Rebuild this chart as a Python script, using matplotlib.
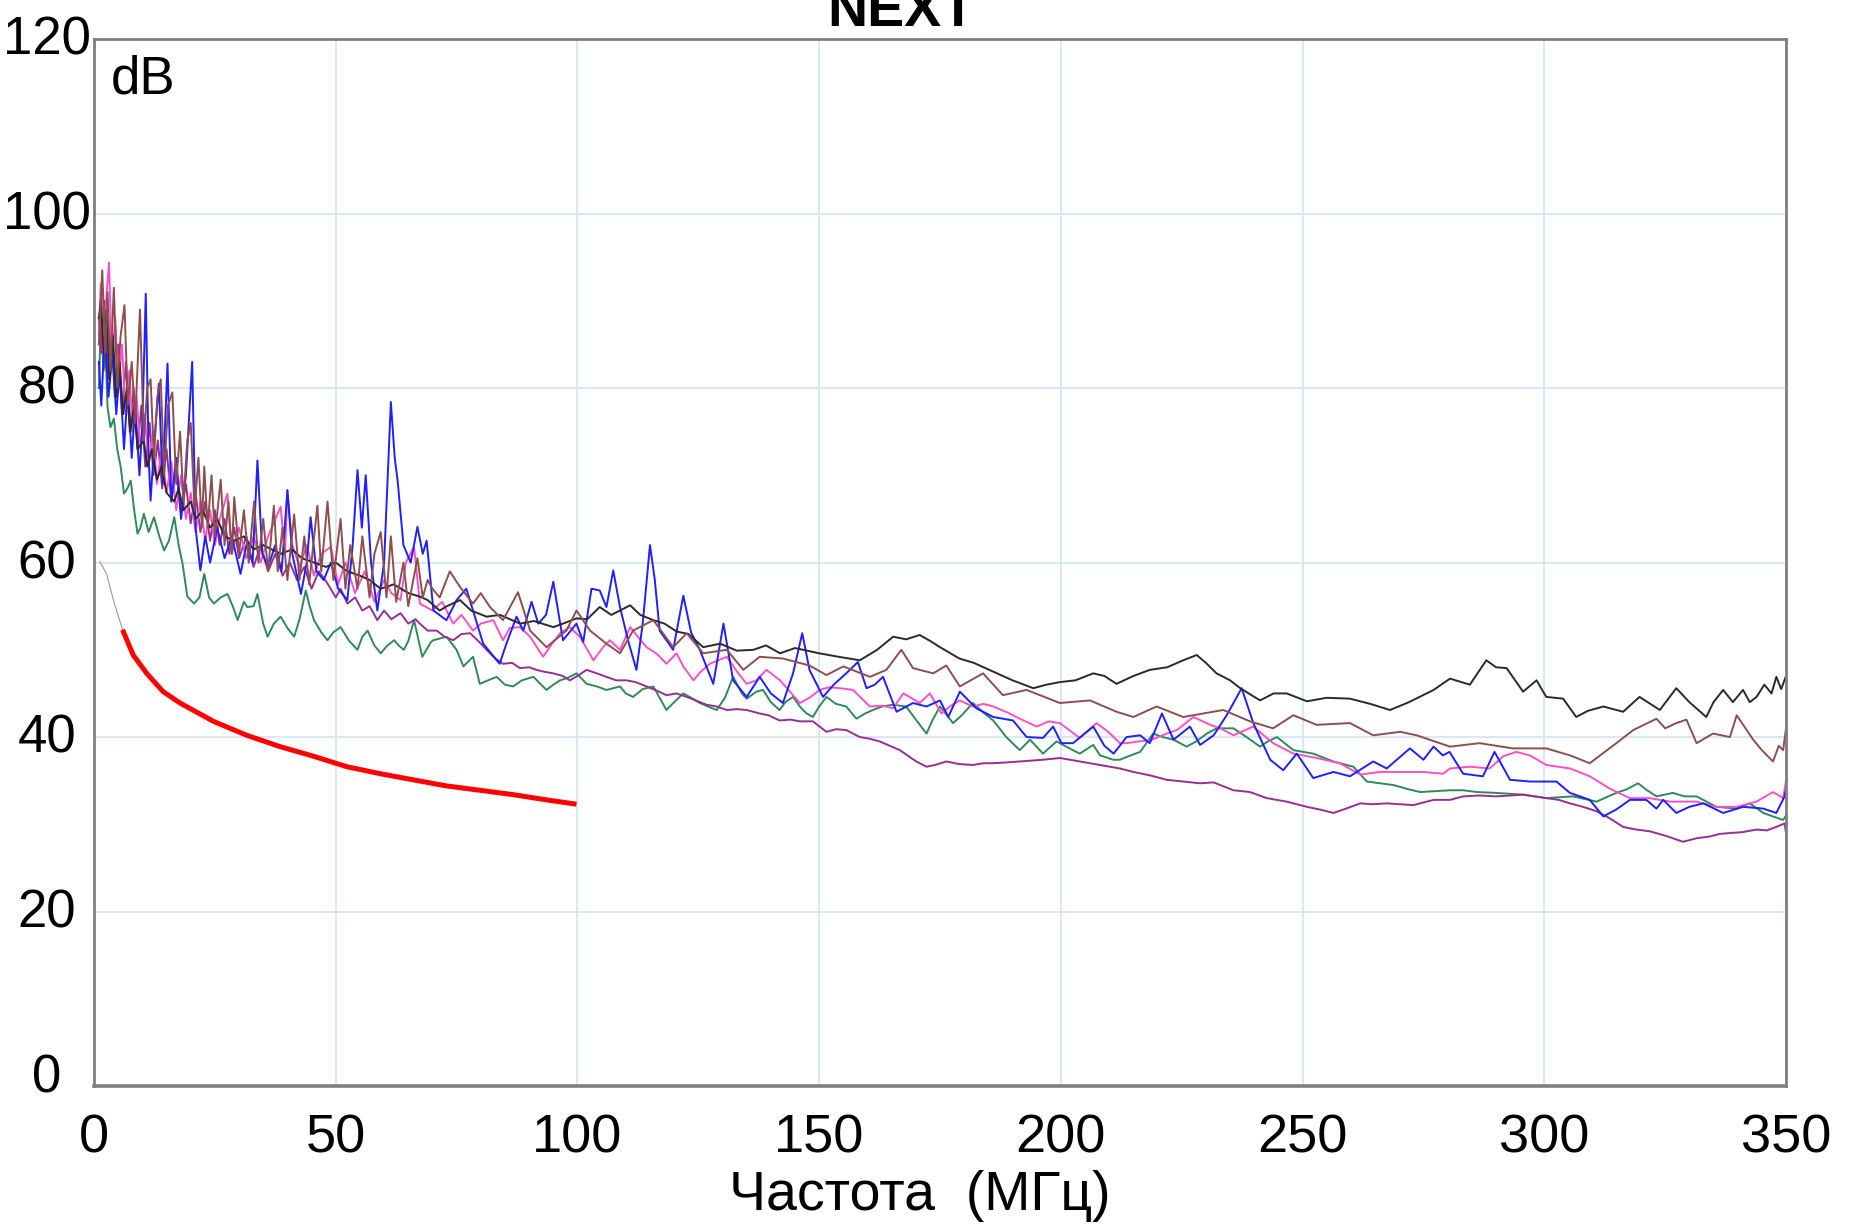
import matplotlib
matplotlib.use('Agg')
import matplotlib.pyplot as plt
import numpy as np
from matplotlib.transforms import ScaledTranslation

# NEXT - measured pairs (frequency MHz, dB)
black = [(1.0, 88), (1.4, 90), (2.0, 84), (2.6, 89), (3.2, 81), (3.9, 86), (4.6, 79), (5.3, 83),
         (6.0, 77), (6.8, 80), (7.5, 75), (8.3, 78), (9.0, 73), (10.3, 74), (11, 71), (12, 73),
         (13, 69.5), (14, 71), (15, 68), (16.6, 67), (17.5, 68.5), (18.5, 66), (20, 67), (21, 65),
         (22.5, 66), (24, 64), (25.5, 65), (27, 63), (29, 62.5), (31, 63), (33, 61.5), (35, 62),
         (38.6, 61), (41, 61.5), (43, 60.5), (45.5, 60), (48, 59.5), (50, 60), (52.4, 59), (55, 58.5),
         (57, 58), (59.3, 57), (62, 57.5), (65, 56.5), (67.4, 56.1), (69, 55.7), (71.5, 54.5), (73, 55),
         (75.7, 55.7), (78, 54.5), (81.2, 53.8), (84, 54), (88.1, 53), (91, 53.3), (95, 52.6), (97, 53),
         (99.8, 53.6), (102, 53.5), (104.6, 54.9), (107, 54), (110.9, 55.1), (113, 54), (115.7, 53.4),
         (118, 53), (120.5, 52.1), (123, 51.8), (126, 50.3), (129.5, 50.7), (133, 49.9), (136.4, 50),
         (139, 50.5), (141.9, 49.6), (145, 50.2), (150, 49.6), (154, 49.2), (158.4, 48.8), (162, 50),
         (165.3, 51.5), (168, 51.2), (170.8, 51.7), (173, 51), (175, 50.3), (179, 49), (182, 48.5),
         (186, 47.5), (190, 46.5), (194.3, 45.6), (197, 46), (199.8, 46.3), (203, 46.5), (206.7, 47.3),
         (209, 47), (211.5, 46.1), (215, 47), (218.4, 47.7), (222, 48), (225.3, 48.8), (228.1, 49.4),
         (230, 48.5), (232.2, 47.3), (235, 46.5), (237.1, 45.6), (241.2, 44.2), (244, 45), (246.7, 45),
         (250.9, 44.1), (255, 44.5), (259.8, 44.4), (264, 43.8), (268.1, 43.1), (272, 44), (277.1, 45.4),
         (280.5, 46.7), (284.6, 46), (288, 48.8), (290, 48), (292.2, 47.9), (295.6, 45.2), (298.4, 46.5),
         (300.4, 44.6), (303.9, 44.4), (306.6, 42.3), (309, 43), (312.2, 43.5), (316.3, 42.9),
         (319.7, 44.6), (323.9, 43.1), (327.3, 45.6), (330, 44), (333.5, 42.3), (335, 44), (337, 45.4),
         (339, 44), (341.1, 45.4), (342.5, 44), (343.9, 44.6), (345.5, 46), (347, 45), (348, 46.9),
         (349, 45.5), (350, 47)]

brown = [(1.0, 85), (1.7, 93.5), (2.3, 84), (2.8, 91), (3.4, 82), (4.1, 91.5), (4.8, 80), (5.5, 86),
         (6.3, 89.5), (7.0, 78), (7.8, 83), (8.5, 76), (9.5, 89), (10.3, 74), (11.0, 80), (11.7, 81),
         (12.4, 72), (13.1, 79), (13.8, 81), (14.5, 70), (15.3, 78), (16.2, 79.5), (17.0, 69),
         (17.8, 75), (18.5, 67), (19.3, 74), (20.0, 76), (20.8, 66), (21.6, 72), (22.3, 64), (22.8, 71),
         (23.5, 64), (24.3, 70), (25.0, 63), (26.2, 69.5), (27.0, 62), (27.8, 67), (28.5, 61), (29.0, 67.5),
         (30.0, 61), (31, 66), (32, 60), (33.1, 67), (34, 60), (35, 65), (36, 59), (37.2, 66.5), (38, 59),
         (39, 64), (40, 58), (41.4, 65.5), (42.5, 58), (43.5, 63), (44.5, 57.5), (46.2, 66.5), (47, 59),
         (48.3, 67), (49.5, 58), (51, 65), (52, 57), (53, 62), (54.5, 57), (55.5, 63), (57, 56), (58, 61),
         (59.3, 63.5), (60.5, 56), (61.4, 63), (62.5, 55.5), (64, 60), (65, 55), (66.9, 60.5), (68, 56),
         (69, 58), (70, 57), (71.5, 56), (73.6, 59), (75.7, 57.2), (78.4, 55.3), (80, 56.5), (81.9, 54.9),
         (84.6, 53.4), (87.7, 56.6), (90.2, 52.2), (93.6, 50.3), (97.7, 52.2), (99.8, 54.5),
         (102.6, 52.2), (106, 50.7), (108.8, 49.6), (111.5, 52.2), (115.7, 53.4), (119.8, 50.3),
         (122.6, 51.9), (126, 49.6), (130.9, 50), (134.3, 47.7), (137.7, 49.2), (142.5, 49), (148, 48.2),
         (151.5, 47.1), (155, 48.1), (160.5, 46.9), (163.9, 47.7), (167, 50), (169.4, 47.9),
         (173.6, 47.3), (176.3, 48.2), (179.1, 45.8), (183.9, 47.3), (188, 44.8), (192.9, 45.4),
         (199.8, 43.9), (206, 44.2), (211.5, 42.9), (215, 42.3), (219.8, 43.5), (225.3, 42.3),
         (233.6, 43.1), (239.1, 41.8), (243.9, 41), (248.1, 42.5), (252.9, 41.4), (259.8, 41.6),
         (264.6, 40.2), (270.2, 40.6), (273.6, 40.2), (280.5, 38.9), (286.6, 39.3), (293.5, 38.7),
         (300.4, 38.7), (305.3, 37.9), (309.4, 37), (314.9, 39.3), (318.4, 40.8), (323.2, 42.1),
         (325, 41), (327.3, 41.6), (329.4, 42), (331.5, 39.3), (334.9, 40.4), (338.4, 40), (339.8, 42.5),
         (343.2, 39.7), (345, 38.5), (347.3, 37.2), (348.5, 39), (349.4, 38.5), (350, 41)]

blue = [(1.0, 83), (1.5, 78), (2.2, 86), (3.0, 79), (3.8, 84), (4.6, 77), (5.3, 82), (6.2, 73),
        (7.0, 80), (7.8, 72), (8.5, 78), (9.4, 70), (10.0, 76), (10.7, 90.8), (11.3, 72), (11.7, 67.1),
        (12.5, 74), (13.4, 80.5), (14.2, 69), (15.2, 82.8), (16, 67), (17, 72), (18, 65), (19, 70),
        (20.3, 83), (21, 64), (22, 59.1), (23, 63), (24, 60), (25.5, 64), (27, 60.5), (28.5, 63),
        (30.3, 58.7), (31.5, 62), (32.8, 60), (33.8, 71.7), (34.8, 61), (36, 59.5), (37.5, 62), (38.8, 59),
        (40, 68.3), (41, 61), (42.8, 56.4), (44, 60), (44.8, 65.2), (46, 59), (47.5, 58), (49, 60),
        (50.5, 57), (52.4, 55.7), (53.5, 62), (54.5, 70.6), (55.4, 64), (56.2, 70), (57.3, 60),
        (58.6, 54.5), (60, 60), (61.4, 78.4), (62.2, 72), (62.8, 69.4), (64, 62), (65.5, 60), (66.9, 64.1),
        (68, 61), (68.8, 62.5), (70.2, 54.5), (72.9, 53.4), (75, 55.7), (77, 57), (80.5, 50.7),
        (83.9, 48.4), (85.3, 50.7), (87.4, 53.8), (88.8, 52.2), (90.5, 55.5), (91.9, 53), (93.5, 54),
        (95, 57.8), (97, 51.1), (99.8, 53), (101.2, 50.9), (102.9, 57), (104.6, 56.8), (106, 54.9),
        (107.4, 59.1), (108.8, 54.9), (110.5, 51), (112.2, 47.7), (113.5, 53), (115, 62), (116, 58),
        (117, 52.2), (119.8, 50), (121.9, 56.2), (123.5, 52), (125.3, 50), (128.1, 46.1), (130.2, 53),
        (132.2, 46.5), (135, 44.6), (137.7, 46.9), (140, 45), (142.5, 43.9), (144.6, 47.3), (146.5, 51.9),
        (148, 47.7), (150.8, 44.6), (153, 46), (155.6, 47.3), (158, 48.6), (159.8, 45.6), (161.5, 46),
        (163.2, 46.9), (166, 42.9), (169.4, 43.9), (172.2, 43.5), (175, 44.2), (176.7, 42.3),
        (179.1, 45.2), (182.5, 43.3), (186, 42.3), (190.1, 41.9), (192.9, 40), (196.3, 39.9),
        (198.4, 41.2), (200.1, 39.3), (202.5, 39.3), (206.7, 41.2), (209, 39), (210.9, 38.1), (213.6, 40),
        (216.4, 40.2), (218.4, 39.3), (220.9, 42.7), (223.3, 39.7), (226.7, 41.2), (228.8, 39.1),
        (231.6, 40.2), (234.3, 42.5), (237.4, 45.6), (239.8, 41.6), (243.3, 37.4), (246, 36.2),
        (248.8, 38.1), (252.2, 35.3), (256.4, 36), (259.8, 35.5), (264.6, 37.2), (267.4, 36.4),
        (272.2, 38.7), (275, 37.4), (277.1, 38.9), (279, 37.9), (280.4, 38.3), (283.2, 35.8),
        (287.3, 35.5), (289.7, 38.3), (292.9, 35.1), (297, 34.9), (302.5, 34.9), (305.3, 33.6),
        (309.4, 32.8), (312.2, 30.9), (314.9, 31.7), (317.7, 32.8), (321.1, 32.8), (323.2, 31.8),
        (324.6, 32.8), (327.3, 31.3), (330, 32), (332.9, 32.4), (337, 31.3), (341.1, 32), (345.3, 31.8),
        (348, 31.3), (349.7, 33.2), (350, 34)]

pink = [(1.0, 86), (1.4, 92), (2.0, 84), (2.5, 90), (3.1, 94.4), (3.7, 83), (4.4, 88), (5.0, 80),
        (5.8, 85), (6.5, 77), (7.3, 82), (8.0, 75), (8.8, 79), (9.6, 73), (10.5, 77), (11.3, 71),
        (12.2, 75), (13.0, 69), (14.0, 73), (15, 68), (16, 71.5), (17, 66), (18, 70), (19, 65), (20, 68),
        (21, 63.5), (22, 67), (23, 62.5), (24, 66), (25, 62), (26, 65), (27.6, 67.9), (28.5, 61), (30, 64),
        (31.5, 60.5), (33, 63), (34.5, 60), (36, 63), (38.6, 66.4), (39.5, 61), (40, 68.3), (41, 62),
        (42.5, 59.5), (44, 62), (45.5, 58.5), (47, 61), (49, 61.8), (50.5, 57.5), (52, 60), (54, 56.5),
        (56, 59), (58, 55.5), (60, 58), (61.5, 56.5), (63.4, 55.7), (64.5, 60), (66.2, 61.8), (67.4, 55.3),
        (70, 54.5), (72, 55.5), (74.3, 53), (76, 54), (78.4, 52.2), (80, 53), (82.6, 53.4), (84.6, 51.1),
        (86, 52.5), (88.1, 52.6), (90.2, 51.5), (92.9, 49.2), (94.5, 50.5), (96.4, 51.9), (98.4, 52.6),
        (100.5, 51.5), (103.3, 48.8), (105.3, 50.3), (106.7, 51.1), (108.8, 50), (110.9, 52.6),
        (112.5, 51.5), (114.3, 50.3), (116.5, 49.5), (118.4, 48.4), (120.5, 49.6), (122, 48), (124, 46.5),
        (125.5, 47.5), (127.4, 48.4), (130.9, 49.2), (133, 47.5), (135, 46.1), (137, 46.5), (139.1, 47.7),
        (141.9, 46.5), (143.5, 45.5), (146, 43.9), (148, 44.5), (150.1, 45.4), (152, 45.7), (154.3, 45.6),
        (157, 45.4), (160.5, 43.5), (163, 43.6), (165.3, 43.3), (167.4, 45), (169, 44.5), (170.8, 43.9),
        (172.9, 45), (175.3, 42.7), (177, 43.5), (179.1, 44.2), (181.8, 43.5), (184, 43.8), (186, 43.5),
        (189, 42.8), (191.5, 42.1), (195, 41.2), (197.5, 41.8), (199.8, 41.6), (203.9, 39.9),
        (207.4, 41.6), (210, 40.5), (212.2, 39.3), (213.6, 39.3), (216, 39.5), (218.4, 39.6),
        (221.9, 40.4), (224, 40.8), (227.4, 42.3), (230.9, 41.4), (233, 41), (235.7, 40.2), (239.8, 41.2),
        (243.9, 39.3), (248.1, 38.1), (252.9, 37.6), (257.7, 37), (261.9, 35.7), (266, 36), (270.2, 36),
        (275, 36), (279.1, 35.8), (280.5, 36.4), (284.6, 36.6), (288.7, 36.4), (291.5, 37.8),
        (294.2, 38.3), (297, 37.9), (300.4, 36.8), (305.3, 36.4), (309.4, 35.5), (313.5, 34.1),
        (317.7, 33), (321.8, 33), (326, 32.6), (331.5, 32.6), (335.6, 32), (339.8, 32), (343.9, 32.6),
        (347.3, 33.7), (349.4, 33), (350, 35)]

green = [(1.0, 80), (1.4, 87.4), (2.0, 82), (2.4, 84), (2.8, 77.8), (3.4, 75.5), (4.1, 76.5), (4.8, 73),
         (5.5, 71), (6.2, 67.9), (6.9, 68.5), (7.6, 69.4), (8.3, 66), (9.0, 63.3), (9.6, 64), (10.3, 65.6),
         (11.3, 63.5), (12.4, 65.2), (13.5, 63), (14.5, 61.4), (15.5, 62.5), (16.6, 65.2), (17.5, 62),
         (18.3, 59.9), (19.3, 56.1), (20.7, 55.3), (21.8, 56), (22.8, 58.7), (23.8, 56), (24.8, 55.3),
         (26.2, 56), (27.6, 56.4), (28.7, 55), (29.7, 53.4), (31, 55.5), (31.7, 54.9), (33, 55),
         (33.8, 56.4), (35, 53), (35.9, 51.5), (37.2, 53), (38.6, 53.8), (40, 52.5), (41.4, 51.5),
         (42.5, 53.5), (43.8, 56.8), (44.6, 55), (45.5, 53.4), (47, 52), (48.3, 51.1), (49.5, 52),
         (51, 52.6), (52.8, 51), (54.5, 50), (55.5, 51.5), (56.6, 52.2), (58, 50.5), (59.3, 49.6),
         (60.7, 50.5), (62.1, 51.1), (63, 50.5), (64.1, 50), (65, 51), (66.2, 53.4), (67.9, 49.2),
         (69.7, 50.9), (70.2, 51.1), (72.9, 51.5), (75, 50), (76.4, 48.1), (78.4, 49.2), (79.8, 46.1),
         (81.5, 46.5), (83.3, 46.9), (85, 46), (86.7, 45.8), (88.5, 46.5), (90.9, 46.9), (92.5, 46),
         (93.6, 45.4), (95, 46), (96.4, 46.5), (98, 46.8), (99.8, 47.3), (101.9, 46.1), (104, 45.8),
         (106, 45.4), (108.8, 45.8), (110, 45), (111.5, 44.6), (113.5, 45.5), (115.7, 45.8), (117, 44.5),
         (118.4, 43.1), (120, 44), (121.9, 45), (123.5, 44.5), (125.3, 43.9), (127, 43.5), (128.8, 43.1),
         (130.5, 44.5), (132.2, 46.9), (134, 45), (135, 44.4), (137, 45.2), (138.4, 45.4), (140, 44),
         (141.8, 43.1), (143, 44), (144.6, 44.6), (146, 43.5), (147.4, 42.7), (148.7, 42.3), (150, 43.5),
         (151.5, 44.6), (153.5, 43.8), (155.6, 43.5), (157.7, 42.1), (159.5, 42.7), (161.1, 43.1),
         (163, 43.5), (165.3, 43.7), (168, 43.5), (170, 42), (172.2, 40.4), (173.5, 42), (175, 43.5),
         (177.7, 41.6), (179.5, 42.5), (181.8, 43.9), (184, 42.8), (186, 41.9), (188.7, 40), (191.5, 38.5),
         (193.6, 39.7), (196.3, 38.1), (199.1, 39.5), (201.8, 38.7), (203.9, 38.1), (206.7, 39.1),
         (208.1, 37.9), (210.8, 37.4), (212.2, 37.4), (214, 37.8), (216.4, 38.3), (219.1, 40.4),
         (221, 40), (223.3, 39.7), (226, 38.9), (228, 39.5), (230.2, 40.4), (232.2, 41), (235.7, 41),
         (238.4, 40), (241.2, 38.9), (242.8, 39.5), (244.7, 40), (246.5, 39.2), (248.1, 38.5),
         (252.2, 38.1), (256.4, 37.2), (260.5, 36.6), (263.3, 34.9), (266, 34.7), (268.8, 34.5),
         (272, 34), (274.3, 33.7), (280.5, 33.9), (283.2, 33.9), (286, 33.7), (290, 33.6), (295.6, 33.4),
         (300.4, 33), (305.9, 33.2), (310.8, 32.6), (314.9, 33.6), (317, 34), (319.4, 34.7), (321, 34),
         (323.2, 33.2), (326.6, 33.6), (329, 33.2), (331.5, 33.2), (335.6, 32), (339.8, 31.8),
         (342.5, 32.4), (345.3, 31.3), (347.3, 30.9), (349.4, 30.5), (350, 31)]

purple = [(1.0, 88), (1.5, 84), (2.2, 90), (2.9, 81), (3.6, 87), (4.3, 79), (5.0, 85), (5.8, 77),
          (6.6, 83), (7.4, 75), (8.2, 80), (9.0, 73), (9.8, 78), (10.6, 71), (11.5, 76), (12.3, 70),
          (13.2, 74), (14.1, 68.5), (15, 73), (16, 67), (17, 71), (18, 65.5), (19, 69), (20, 64.5), (21, 68),
          (22, 63.5), (23, 67), (24, 62.5), (25, 66), (26, 62), (27, 65), (28, 61), (29, 64), (30, 60.5),
          (31.5, 63), (33, 59.5), (34.5, 62), (36, 59), (37.5, 61), (39, 58.5), (40.5, 60), (42, 58),
          (43.5, 59.5), (45, 57), (46.5, 59), (48.3, 57.6), (50, 56), (51, 57), (52.4, 55.3), (54, 56),
          (55.5, 54.5), (57, 55), (58.6, 53.4), (60, 54.5), (61.5, 53.5), (63.4, 54.2), (65, 53),
          (66.5, 53.5), (67.4, 53), (69, 52.2), (70.9, 52.2), (72.5, 51.5), (74.3, 51.1), (76, 51.8),
          (77.8, 51.9), (79.5, 51), (81.2, 50), (83, 49), (84.6, 48.4), (86.5, 48.5), (88.1, 47.9),
          (90, 48), (91.5, 47.7), (93, 47.5), (95, 47.3), (97, 47), (98.4, 46.5), (100, 47), (101.9, 47.7),
          (104, 47.3), (106, 46.9), (108, 46.5), (110.2, 46.5), (112, 46.3), (114.3, 45.8), (116.5, 45.3),
          (118.4, 44.8), (120.5, 45), (122.6, 44.6), (124.5, 44.2), (126.7, 43.7), (128.8, 43.5),
          (130.9, 43.1), (133, 43.2), (135, 43.1), (137.7, 42.7), (139.5, 42.5), (141.8, 41.9), (144, 42),
          (146, 41.8), (148.7, 41.8), (151.5, 40.6), (153.5, 40.9), (155.6, 40.8), (158.4, 40),
          (160.5, 39.8), (162.5, 39.5), (164.6, 39), (166.7, 38.5), (168.5, 37.8), (170.1, 37.2),
          (172.2, 36.6), (174, 36.8), (176.3, 37.2), (179, 36.9), (181.8, 36.8), (184, 37), (186, 37),
          (189, 37.1), (191.5, 37.2), (194, 37.3), (196.3, 37.4), (199.8, 37.6), (203.9, 37.2),
          (208.1, 36.8), (212.2, 36.4), (215, 36), (218.5, 35.6), (221.9, 35.1), (225.3, 34.9),
          (228.8, 34.7), (231.6, 34.8), (235.7, 33.9), (239.1, 33.7), (242.6, 33), (246.7, 32.6),
          (250.9, 32), (253.5, 31.7), (256.4, 31.3), (259, 31.8), (261.9, 32.4), (264.5, 32.3),
          (267.4, 32.4), (270, 32.3), (272.9, 32.2), (277.1, 32.8), (280.5, 32.8), (283.2, 33.2),
          (286.5, 33.3), (290, 33.2), (293, 33.3), (295.6, 33.4), (298, 33.2), (300.4, 33), (303, 32.8),
          (305.3, 32.4), (308, 32), (310.8, 31.5), (313.5, 30.7), (316.3, 29.7), (319, 29.4),
          (321.8, 29.2), (325, 28.7), (328.7, 28), (331.5, 28.4), (334.2, 28.6), (336.3, 28.9),
          (338.4, 29), (341, 29.1), (343.9, 29.4), (346, 29.3), (348, 29.7), (349.7, 30.1), (350, 29)]

# limit line: gray part below 6 MHz, red from 6 to 100 MHz
limit_gray = [(1.2, 60.1), (2.6, 58.7), (4.0, 55.7), (5.9, 52.3)]
limit_red = [(5.9, 52.3), (8.1, 49.4), (10.9, 47.3), (14.3, 45.2), (17.8, 43.9), (24.7, 41.8),
             (31.6, 40.2), (38.5, 38.9), (45.4, 37.8), (52.3, 36.6), (59.2, 35.8), (66.0, 35.1),
             (72.9, 34.4), (79.8, 33.9), (86.7, 33.4), (93.6, 32.8), (99.8, 32.3)]

x_ticks = [0, 50, 100, 150, 200, 250, 300, 350]
y_ticks = [0, 20, 40, 60, 80, 100, 120]

plt.rcParams['font.family'] = ['Liberation Sans', 'DejaVu Sans']

fig = plt.figure(figsize=(18.51, 12.24), dpi=100)
ax = fig.add_axes([0.0508, 0.1127, 0.9141, 0.8554])

ax.grid(True, color='#d6e6f8', linewidth=1.3)
ax.set_axisbelow(True)

series = [(green, '#2e8b57'), (purple, '#952f95'), (pink, '#ff4fc8'),
          (blue, '#1f1fff'), (black, '#2a2a2a'), (brown, '#8e4e4e')]
for data, col in series:
    f, v = np.array(data).T
    ax.plot(f, v, color=col, linewidth=1.4)

f, v = np.array(limit_gray).T
ax.plot(f, v, color='#999999', linewidth=0.8)
f, v = np.array(limit_red).T
ax.plot(f, v, color='#ff0000', linewidth=3.6, solid_capstyle='butt')

ax.set_xlim(0, 350)
ax.set_ylim(0, 120)
ax.set_xticks(x_ticks)
ax.set_yticks(y_ticks)
ax.tick_params(axis='both', length=0, labelsize=39)
ax.tick_params(axis='y', labelsize=38, pad=34)
ax.tick_params(axis='x', pad=20)

for s in ax.spines.values():
    s.set_color('#7f7f7f')
    s.set_linewidth(2.0)
ax.spines['bottom'].set_linewidth(2.6)

# y labels are centred in the left margin, a little above their gridline; "0" lifted further
for lab in ax.get_yticklabels():
    lab.set_horizontalalignment('center')
    dy = 13 if lab.get_text() == '0' else 4
    lab.set_transform(lab.get_transform() + ScaledTranslation(0, dy / 100, fig.dpi_scale_trans))

ax.text(0.01, 0.985, 'dB', transform=ax.transAxes, fontsize=38, va='top', ha='left')
fig.text(0.487, 0.979, 'NEXT', fontsize=40, fontweight='bold', ha='center', va='baseline')
fig.text(0.497, 0.0114, 'Частота  (МГц)', fontsize=40, ha='center', va='baseline')

fig.savefig('out.png', dpi=100)
